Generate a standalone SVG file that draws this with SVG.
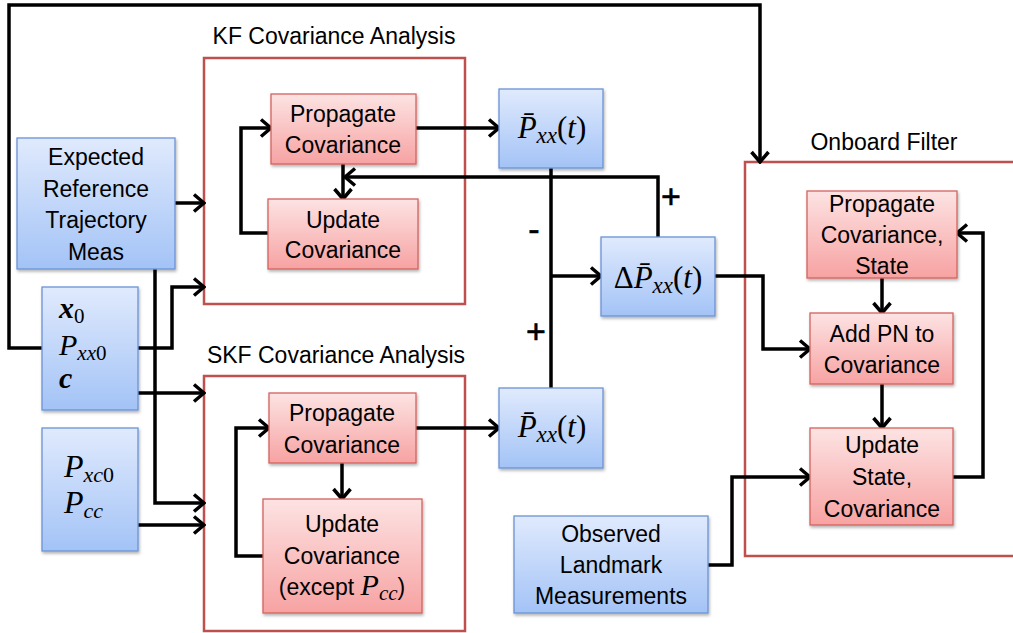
<svg xmlns="http://www.w3.org/2000/svg" width="1013" height="633" viewBox="0 0 1013 633">
<style>
.t{font-family:"Liberation Sans",Arial,sans-serif;font-size:23px;fill:#000;text-anchor:middle}
.m{font-family:"Liberation Serif","Times New Roman",serif;fill:#000}
.i{font-style:italic}
.blue{fill:url(#gb);stroke:#6b93d6;stroke-width:1.3;filter:url(#sh)}
.red{fill:url(#gr);stroke:#d5635f;stroke-width:1.3;filter:url(#sh)}
.cont{fill:none;stroke:#c0504d;stroke-width:2.5}
.c{fill:none;stroke:#000;stroke-width:3.5;marker-end:url(#ah)}
.n{fill:none;stroke:#000;stroke-width:3.5}
.s{font-family:"Liberation Sans",Arial,sans-serif;font-size:34px;text-anchor:middle;fill:#000;stroke:#000;stroke-width:0.6}
</style>
<defs>
<linearGradient id="gb" x1="0" y1="0" x2="0" y2="1"><stop offset="0" stop-color="#e0eafd"/><stop offset="1" stop-color="#a3c3f6"/></linearGradient>
<linearGradient id="gr" x1="0" y1="0" x2="0" y2="1"><stop offset="0" stop-color="#fde3e3"/><stop offset="1" stop-color="#f7a2a2"/></linearGradient>
<filter id="sh" x="-10%" y="-10%" width="125%" height="130%"><feDropShadow dx="1" dy="2" stdDeviation="1.5" flood-color="#000" flood-opacity="0.3"/></filter>
<marker id="ah" viewBox="0 0 14 20" refX="12" refY="10" markerWidth="14" markerHeight="20" markerUnits="userSpaceOnUse" orient="auto">
<path d="M2,1.5 L12,10 L2,18.5" fill="none" stroke="#000" stroke-width="3.5"/>
</marker>
</defs>

<g id="containers">
<rect id="kf" class="cont" x="204" y="58" width="261" height="246"/>
<text class="t" x="334" y="44">KF Covariance Analysis</text>
<rect id="skf" class="cont" x="204" y="376" width="261" height="255"/>
<text class="t" x="336" y="363">SKF Covariance Analysis</text>
<rect id="onboard" class="cont" x="745" y="162" width="300" height="394"/>
<text class="t" x="884" y="150">Onboard Filter</text>
</g>

<g id="connectors">
<path class="c" d="M42,348 H9 V5 H760 V162"/>
<path class="c" d="M175,203 H204"/>
<path class="c" d="M138,348 H172 V287 H204"/>
<path class="c" d="M155,269 V503 H204"/>
<path class="c" d="M138,393 H204"/>
<path class="c" d="M138,525 H204"/>
<path class="c" d="M268,233 H241 V128 H271"/>
<path class="c" d="M343,164 V199"/>
<path class="c" d="M416,128 H499"/>
<path class="c" d="M658,237 V177 H345"/>
<path class="n" d="M551,168 V388"/>
<path class="c" d="M551,276 H601"/>
<path class="c" d="M263,556 H236 V428 H269"/>
<path class="c" d="M342,463 V499"/>
<path class="c" d="M416,428 H499"/>
<path class="c" d="M715,276 H763 V349 H810"/>
<path class="c" d="M882,278 V313"/>
<path class="c" d="M882,384 V428"/>
<path class="c" d="M953,477 H983 V233 H957"/>
<path class="c" d="M708,565 H732 V477 H810"/>
<text class="s" x="671" y="208">+</text>
<text class="s" x="534" y="241">-</text>
<text class="s" x="536" y="343">+</text>
</g>

<g id="expected">
<rect class="blue" x="17" y="138" width="158" height="131"/>
<text class="t" x="96" y="165">Expected</text>
<text class="t" x="96" y="197">Reference</text>
<text class="t" x="96" y="228">Trajectory</text>
<text class="t" x="96" y="260">Meas</text>
</g>

<g id="init">
<rect class="blue" x="42" y="287" width="96" height="123"/>
<text class="m" x="59" y="318" font-size="30"><tspan font-weight="bold" font-style="italic">x</tspan><tspan font-size="21" dy="5">0</tspan></text>
<text class="m" x="59" y="355" font-size="30"><tspan class="i">P</tspan><tspan font-size="21" dy="5"><tspan class="i">xx</tspan>0</tspan></text>
<text class="m" x="59" y="388" font-size="30" font-weight="bold" font-style="italic">c</text>
</g>

<g id="cross">
<rect class="blue" x="42" y="428" width="96" height="123"/>
<text class="m" x="64" y="477" font-size="32"><tspan class="i">P</tspan><tspan font-size="22" dy="5"><tspan class="i">xc</tspan>0</tspan></text>
<text class="m" x="64" y="513" font-size="32"><tspan class="i">P</tspan><tspan font-size="22" dy="5" class="i">cc</tspan></text>
</g>

<g id="kf-prop">
<rect class="red" x="271" y="94" width="145" height="70"/>
<text class="t" x="343" y="122">Propagate</text>
<text class="t" x="343" y="153">Covariance</text>
</g>

<g id="kf-upd">
<rect class="red" x="268" y="199" width="150" height="70"/>
<text class="t" x="343" y="228">Update</text>
<text class="t" x="343" y="258">Covariance</text>
</g>

<g id="skf-prop">
<rect class="red" x="269" y="393" width="147" height="70"/>
<text class="t" x="342" y="421">Propagate</text>
<text class="t" x="342" y="453">Covariance</text>
</g>

<g id="skf-upd">
<rect class="red" x="263" y="499" width="159" height="114"/>
<text class="t" x="342" y="532">Update</text>
<text class="t" x="342" y="564">Covariance</text>
<text class="t" x="342" y="595">(except <tspan class="m i" font-size="30">P</tspan><tspan class="m i" font-size="21" dy="5">cc</tspan><tspan dy="-5">)</tspan></text>
</g>

<g id="pbar-kf">
<rect class="blue" x="499" y="89" width="104" height="79"/>
<text class="m" x="552" y="138" font-size="31" text-anchor="middle"><tspan class="i">P&#x304;</tspan><tspan class="i" font-size="23" dy="5">xx</tspan><tspan dy="-5">(</tspan><tspan class="i">t</tspan>)</text>
</g>

<g id="pbar-skf">
<rect class="blue" x="499" y="388" width="104" height="80"/>
<text class="m" x="552" y="437" font-size="31" text-anchor="middle"><tspan class="i">P&#x304;</tspan><tspan class="i" font-size="23" dy="5">xx</tspan><tspan dy="-5">(</tspan><tspan class="i">t</tspan>)</text>
</g>

<g id="delta">
<rect class="blue" x="601" y="237" width="114" height="79"/>
<text class="m" x="658" y="288" font-size="31" text-anchor="middle">Δ<tspan class="i">P&#x304;</tspan><tspan class="i" font-size="23" dy="5">xx</tspan><tspan dy="-5">(</tspan><tspan class="i">t</tspan>)</text>
</g>

<g id="ob-prop">
<rect class="red" x="807" y="191" width="150" height="87"/>
<text class="t" x="882" y="212">Propagate</text>
<text class="t" x="882" y="243">Covariance,</text>
<text class="t" x="882" y="274">State</text>
</g>

<g id="ob-pn">
<rect class="red" x="810" y="313" width="143" height="71"/>
<text class="t" x="882" y="342">Add PN to</text>
<text class="t" x="882" y="373">Covariance</text>
</g>

<g id="ob-upd">
<rect class="red" x="810" y="428" width="143" height="97"/>
<text class="t" x="882" y="453">Update</text>
<text class="t" x="882" y="485">State,</text>
<text class="t" x="882" y="517">Covariance</text>
</g>

<g id="observed">
<rect class="blue" x="514" y="516" width="194" height="97"/>
<text class="t" x="611" y="542">Observed</text>
<text class="t" x="611" y="573">Landmark</text>
<text class="t" x="611" y="604">Measurements</text>
</g>
</svg>
